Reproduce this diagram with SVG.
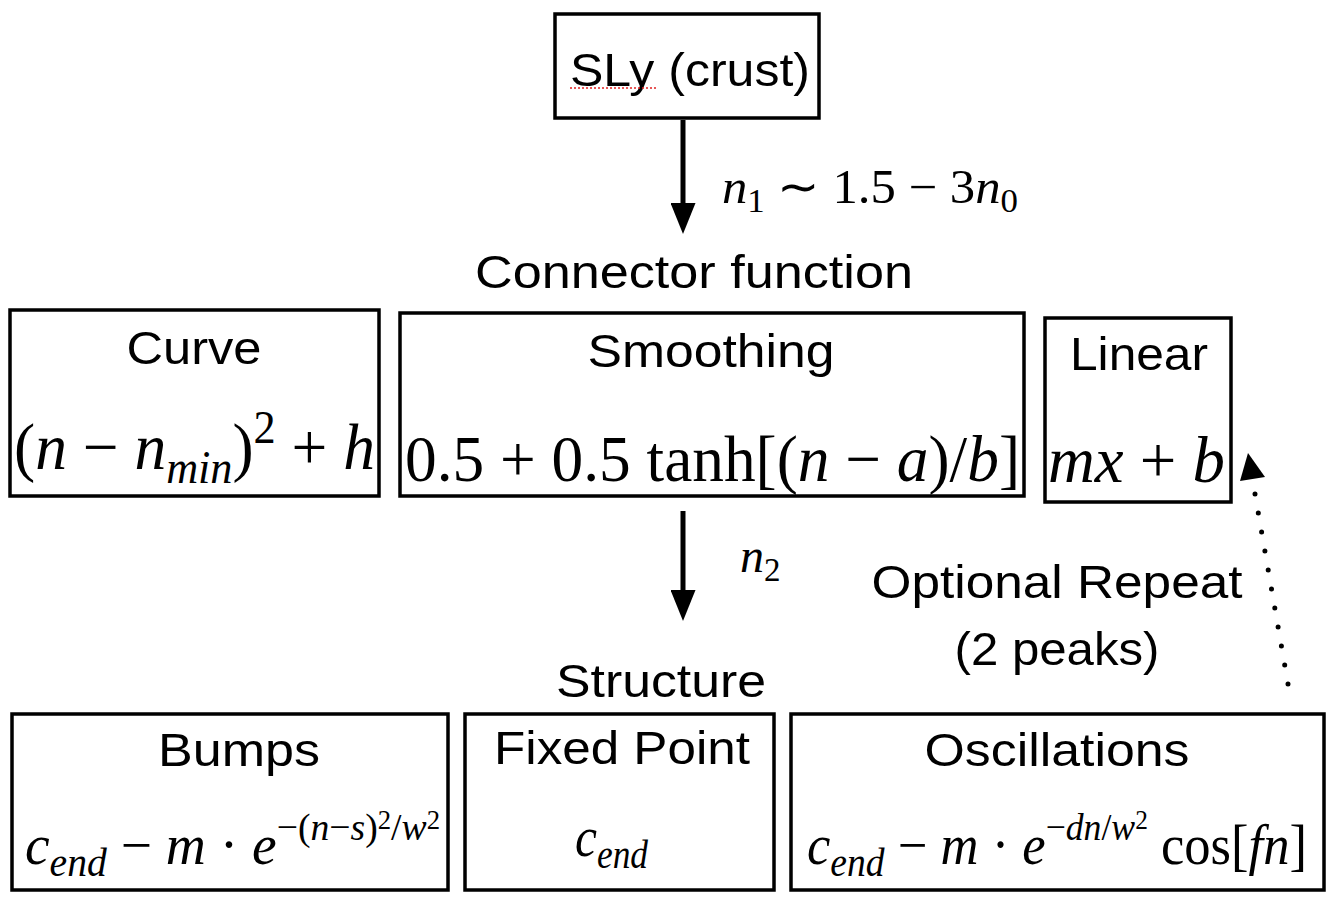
<svg xmlns="http://www.w3.org/2000/svg" width="1336" height="904" viewBox="0 0 1336 904">
<defs>
<style>
.box{fill:#fff;stroke:#000;stroke-width:3.5}
.lbl{font-family:"Liberation Sans",Arial,Helvetica,sans-serif;font-size:47px;fill:#000;text-anchor:middle}
.m{font-family:"Liberation Serif","Times New Roman",serif;fill:#000}
.i{font-style:italic}
.conn{stroke:#000;stroke-width:5;fill:none}
.dots{stroke:#000;stroke-width:5;stroke-linecap:round;stroke-dasharray:0 19.28;fill:none}
</style>
<marker id="ah" markerUnits="userSpaceOnUse" markerWidth="31" markerHeight="25" refX="0" refY="12.5" orient="auto" viewBox="0 0 31 25">
<path d="M0,0 L31,12.5 L0,25 z" fill="#000"/>
</marker>
</defs>
<rect width="1336" height="904" fill="#fff"/>

<g id="connectors">
<line class="conn" x1="683" y1="120" x2="683" y2="203" marker-end="url(#ah)"/>
<line class="conn" x1="683" y1="511" x2="683" y2="590" marker-end="url(#ah)"/>
<line class="dots" x1="1288" y1="684" x2="1255" y2="494"/>
<polygon points="1248,453 1240,481 1265,477" fill="#000"/>
</g>

<g id="sly">
<rect class="box" x="555" y="14" width="264" height="104"/>
<text class="lbl" x="690" y="86" textLength="240" lengthAdjust="spacingAndGlyphs">SLy (crust)</text>
<line x1="570" y1="88" x2="656" y2="88" stroke="#e02020" stroke-width="1.5" stroke-dasharray="2 2"/>
</g>

<g id="n1-label">
<text class="m" x="722" y="203" font-size="48" textLength="296" lengthAdjust="spacingAndGlyphs"><tspan class="i">n</tspan><tspan font-size="33" dy="9">1</tspan><tspan dy="-9"> ∼ 1.5 − 3</tspan><tspan class="i">n</tspan><tspan font-size="33" dy="9">0</tspan></text>
</g>

<g id="connector-function">
<text class="lbl" x="694" y="288" textLength="438" lengthAdjust="spacingAndGlyphs">Connector function</text>
</g>

<g id="curve">
<rect class="box" x="10" y="310" width="369" height="186"/>
<text class="lbl" x="194" y="364" textLength="135" lengthAdjust="spacingAndGlyphs">Curve</text>
<text class="m" x="14" y="469" font-size="66" textLength="361" lengthAdjust="spacingAndGlyphs">(<tspan class="i">n</tspan> − <tspan class="i">n</tspan><tspan class="i" font-size="46" dy="14">min</tspan><tspan dy="-14">)</tspan><tspan font-size="46" dy="-26">2</tspan><tspan dy="26"> + </tspan><tspan class="i">h</tspan></text>
</g>

<g id="smoothing">
<rect class="box" x="400" y="313" width="624" height="183"/>
<text class="lbl" x="711" y="367" textLength="247" lengthAdjust="spacingAndGlyphs">Smoothing</text>
<text class="m" x="405" y="481" font-size="66" textLength="615" lengthAdjust="spacingAndGlyphs">0.5 + 0.5 tanh[(<tspan class="i">n</tspan> − <tspan class="i">a</tspan>)/<tspan class="i">b</tspan>]</text>
</g>

<g id="linear">
<rect class="box" x="1045" y="318" width="186" height="184"/>
<text class="lbl" x="1139" y="370" textLength="138" lengthAdjust="spacingAndGlyphs">Linear</text>
<text class="m" x="1048" y="482" font-size="66" textLength="177" lengthAdjust="spacingAndGlyphs"><tspan class="i">mx</tspan> + <tspan class="i">b</tspan></text>
</g>

<g id="n2-label">
<text class="m" x="740" y="572" font-size="48"><tspan class="i">n</tspan><tspan font-size="33" dy="9">2</tspan></text>
</g>

<g id="optional-repeat">
<text class="lbl" x="1057" y="598" textLength="371" lengthAdjust="spacingAndGlyphs">Optional Repeat</text>
<text class="lbl" x="1057" y="665" textLength="205" lengthAdjust="spacingAndGlyphs">(2 peaks)</text>
</g>

<g id="structure">
<text class="lbl" x="661" y="697" textLength="210" lengthAdjust="spacingAndGlyphs">Structure</text>
</g>

<g id="bumps">
<rect class="box" x="12" y="714" width="436" height="176"/>
<text class="lbl" x="239" y="766" textLength="162" lengthAdjust="spacingAndGlyphs">Bumps</text>
<text class="m" x="25" y="864" font-size="56" textLength="415" lengthAdjust="spacingAndGlyphs"><tspan class="i">c</tspan><tspan class="i" font-size="40" dy="12">end</tspan><tspan dy="-12"> − </tspan><tspan class="i">m</tspan> · <tspan class="i">e</tspan><tspan font-size="38" dy="-24">−(</tspan><tspan class="i" font-size="38">n</tspan><tspan font-size="38">−</tspan><tspan class="i" font-size="38">s</tspan><tspan font-size="38">)</tspan><tspan font-size="27" dy="-11">2</tspan><tspan font-size="38" dy="11">/</tspan><tspan class="i" font-size="38">w</tspan><tspan font-size="27" dy="-11">2</tspan></text>
</g>

<g id="fixed-point">
<rect class="box" x="465" y="714" width="309" height="176"/>
<text class="lbl" x="622" y="764" textLength="256" lengthAdjust="spacingAndGlyphs">Fixed Point</text>
<text class="m" x="575" y="856" font-size="56" textLength="73" lengthAdjust="spacingAndGlyphs"><tspan class="i">c</tspan><tspan class="i" font-size="40" dy="12">end</tspan></text>
</g>

<g id="oscillations">
<rect class="box" x="791" y="714" width="533" height="176"/>
<text class="lbl" x="1057" y="766" textLength="265" lengthAdjust="spacingAndGlyphs">Oscillations</text>
<text class="m" x="807" y="864" font-size="56" textLength="500" lengthAdjust="spacingAndGlyphs"><tspan class="i">c</tspan><tspan class="i" font-size="40" dy="12">end</tspan><tspan dy="-12"> − </tspan><tspan class="i">m</tspan> · <tspan class="i">e</tspan><tspan font-size="38" dy="-24">−</tspan><tspan class="i" font-size="38">dn</tspan><tspan font-size="38">/</tspan><tspan class="i" font-size="38">w</tspan><tspan font-size="27" dy="-11">2</tspan><tspan dy="35"> cos[</tspan><tspan class="i">fn</tspan>]</text>
</g>
</svg>
